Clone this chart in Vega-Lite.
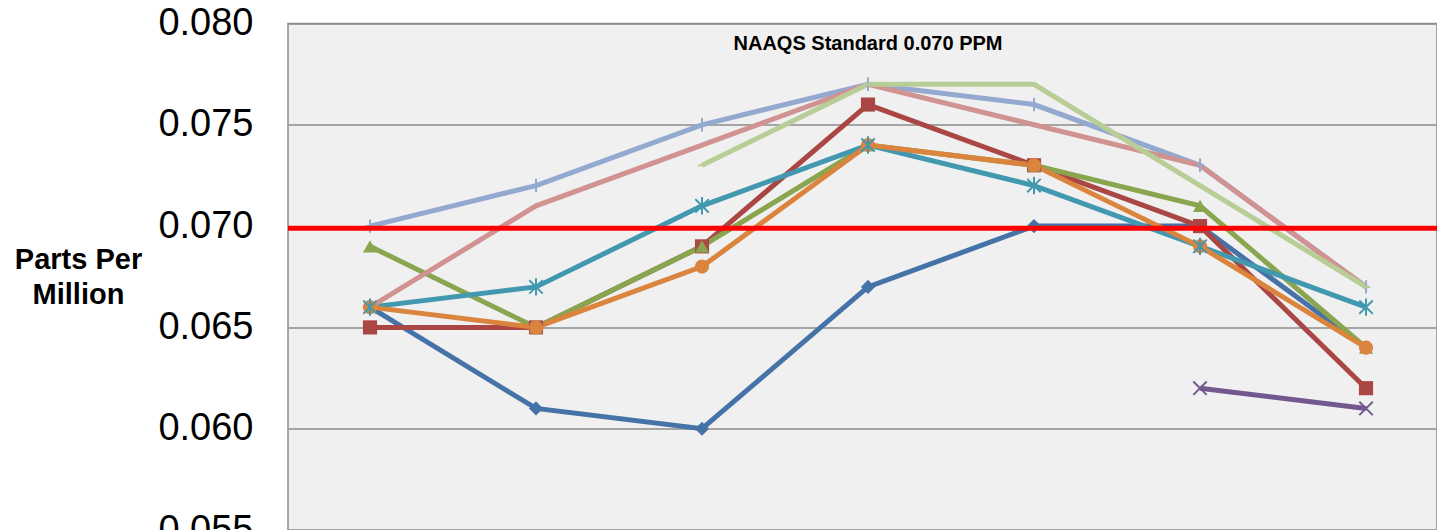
{
  "$schema": "https://vega.github.io/schema/vega-lite/v6.json",
  "width": 1149,
  "height": 506.5,
  "autosize": {"type": "none"},
  "padding": {"left": 288, "top": 23.5, "right": 0, "bottom": 0},
  "background": "white",
  "config": {"view": {"fill": "#F0F0F0", "stroke": "#8C8C8C", "strokeWidth": 1.5}},
  "datasets": {
    "readings": [
      {"site": "S1", "period": "2003", "ppm": 0.066}, {"site": "S1", "period": "2004", "ppm": 0.061}, {"site": "S1", "period": "2005", "ppm": 0.060}, {"site": "S1", "period": "2006", "ppm": 0.067}, {"site": "S1", "period": "2007", "ppm": 0.070}, {"site": "S1", "period": "2008", "ppm": 0.070}, {"site": "S1", "period": "2009", "ppm": 0.064},
      {"site": "S2", "period": "2003", "ppm": 0.065}, {"site": "S2", "period": "2004", "ppm": 0.065}, {"site": "S2", "period": "2005", "ppm": 0.069}, {"site": "S2", "period": "2006", "ppm": 0.076}, {"site": "S2", "period": "2007", "ppm": 0.073}, {"site": "S2", "period": "2008", "ppm": 0.070}, {"site": "S2", "period": "2009", "ppm": 0.062},
      {"site": "S3", "period": "2003", "ppm": 0.069}, {"site": "S3", "period": "2004", "ppm": 0.065}, {"site": "S3", "period": "2005", "ppm": 0.069}, {"site": "S3", "period": "2006", "ppm": 0.074}, {"site": "S3", "period": "2007", "ppm": 0.073}, {"site": "S3", "period": "2008", "ppm": 0.071}, {"site": "S3", "period": "2009", "ppm": 0.064},
      {"site": "S4", "period": "2008", "ppm": 0.062}, {"site": "S4", "period": "2009", "ppm": 0.061},
      {"site": "S5", "period": "2003", "ppm": 0.066}, {"site": "S5", "period": "2004", "ppm": 0.067}, {"site": "S5", "period": "2005", "ppm": 0.071}, {"site": "S5", "period": "2006", "ppm": 0.074}, {"site": "S5", "period": "2007", "ppm": 0.072}, {"site": "S5", "period": "2008", "ppm": 0.069}, {"site": "S5", "period": "2009", "ppm": 0.066},
      {"site": "S6", "period": "2003", "ppm": 0.066}, {"site": "S6", "period": "2004", "ppm": 0.065}, {"site": "S6", "period": "2005", "ppm": 0.068}, {"site": "S6", "period": "2006", "ppm": 0.074}, {"site": "S6", "period": "2007", "ppm": 0.073}, {"site": "S6", "period": "2008", "ppm": 0.069}, {"site": "S6", "period": "2009", "ppm": 0.064},
      {"site": "S7", "period": "2003", "ppm": 0.070}, {"site": "S7", "period": "2004", "ppm": 0.072}, {"site": "S7", "period": "2005", "ppm": 0.075}, {"site": "S7", "period": "2006", "ppm": 0.077}, {"site": "S7", "period": "2007", "ppm": 0.076}, {"site": "S7", "period": "2008", "ppm": 0.073}, {"site": "S7", "period": "2009", "ppm": 0.067},
      {"site": "S8", "period": "2003", "ppm": 0.066}, {"site": "S8", "period": "2004", "ppm": 0.071}, {"site": "S8", "period": "2005", "ppm": 0.074}, {"site": "S8", "period": "2006", "ppm": 0.077}, {"site": "S8", "period": "2007", "ppm": 0.075}, {"site": "S8", "period": "2008", "ppm": 0.073}, {"site": "S8", "period": "2009", "ppm": 0.067},
      {"site": "S9", "period": "2005", "ppm": 0.073}, {"site": "S9", "period": "2006", "ppm": 0.077}, {"site": "S9", "period": "2007", "ppm": 0.077}, {"site": "S9", "period": "2008", "ppm": 0.072}, {"site": "S9", "period": "2009", "ppm": 0.067}
    ],
    "standard": [
      {"label": "NAAQS Standard 0.070  PPM", "ppm": 0.0699, "labelPeriod": "2006", "labelPpm": 0.079}
    ]
  },
  "layer": [
    {
      "data": {"name": "readings"},
      "mark": {"type": "line", "strokeWidth": 5},
      "encoding": {
        "x": {"field": "period", "type": "ordinal", "sort": null, "scale": {"type": "point", "padding": 0.4608, "align": 0.536}, "axis": null},
        "y": {
          "field": "ppm", "type": "quantitative",
          "scale": {"domain": [0.055, 0.080], "nice": false, "zero": false},
          "title": ["Parts Per", "Million"],
          "axis": {
            "values": [0.055, 0.060, 0.065, 0.070, 0.075, 0.080],
            "format": ".3f",
            "labelFont": "Liberation Sans", "labelFontSize": 38, "labelColor": "#000000",
            "labelPadding": 35, "ticks": false, "domain": false,
            "grid": true, "gridColor": "#8C8C8C", "gridWidth": 1.5,
            "titleFont": "Liberation Sans", "titleFontSize": 29, "titleFontWeight": "bold", "titleColor": "#000000",
            "titleAngle": 0, "titleAlign": "center", "titleBaseline": "top",
            "titleX": -210, "titleY": 222, "titleLineHeight": 35
          }
        },
        "color": {
          "field": "site", "type": "nominal", "legend": null,
          "scale": {"domain": ["S1", "S2", "S3", "S4", "S5", "S6", "S7", "S8", "S9"],
                    "range": ["#4572A7", "#AA4643", "#89A54E", "#71588F", "#4198AF", "#DB843D", "#93A9CF", "#D19392", "#B9CD96"]}
        },
        "strokeWidth": {"value": 5}
      }
    },
    {
      "data": {"name": "readings"},
      "transform": [{"filter": "indexof(['S1','S2','S3','S6'], datum.site) >= 0"}],
      "mark": {"type": "point", "filled": true, "opacity": 1, "size": 200},
      "encoding": {
        "x": {"field": "period", "type": "ordinal", "sort": null},
        "y": {"field": "ppm", "type": "quantitative", "title": ["Parts Per", "Million"]},
        "color": {"field": "site", "type": "nominal", "legend": null},
        "shape": {"field": "site", "type": "nominal", "legend": null,
          "scale": {"domain": ["S1", "S2", "S3", "S4", "S5", "S6", "S7", "S8", "S9"],
                    "range": ["diamond", "square", "triangle-up", "M-1,-1L1,1M-1,1L1,-1", "M-1,-1L1,1M-1,1L1,-1M0,-1.3L0,1.3", "circle", "M0,-1L0,1M-0.6,0L0.6,0", "M-0.7,0L0.7,0", "M-0.6,0L0.6,0"]}}
      }
    },
    {
      "data": {"name": "readings"},
      "transform": [{"filter": "indexof(['S4','S5','S7','S9'], datum.site) >= 0"}],
      "mark": {"type": "point", "filled": false, "opacity": 1, "strokeWidth": 2, "size": 180},
      "encoding": {
        "x": {"field": "period", "type": "ordinal", "sort": null},
        "y": {"field": "ppm", "type": "quantitative", "title": ["Parts Per", "Million"]},
        "color": {"field": "site", "type": "nominal", "legend": null},
        "shape": {"field": "site", "type": "nominal", "legend": null}
      }
    },
    {
      "data": {"name": "standard"},
      "mark": {"type": "rule", "color": "#FF0000", "strokeWidth": 5},
      "encoding": {
        "y": {"field": "ppm", "type": "quantitative", "title": ["Parts Per", "Million"]}
      }
    },
    {
      "data": {"name": "standard"},
      "mark": {"type": "text", "font": "Liberation Sans", "fontSize": 20, "fontWeight": "bold", "color": "#000000", "align": "center", "baseline": "middle"},
      "encoding": {
        "x": {"field": "labelPeriod", "type": "ordinal", "sort": null},
        "y": {"field": "labelPpm", "type": "quantitative", "title": ["Parts Per", "Million"]},
        "text": {"field": "label"}
      }
    }
  ]
}
